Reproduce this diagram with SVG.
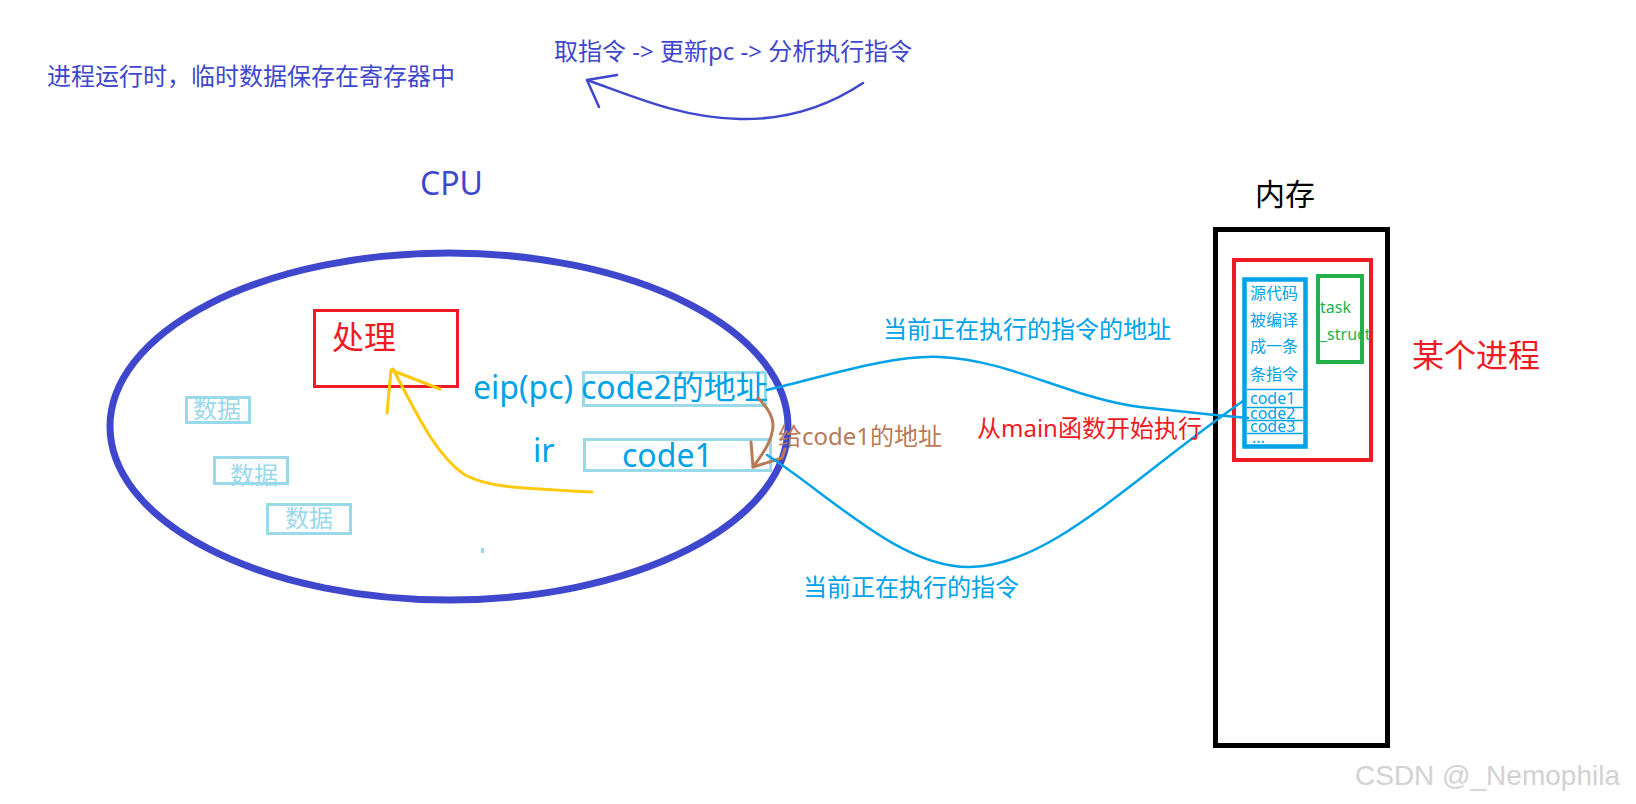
<svg xmlns="http://www.w3.org/2000/svg" width="1636" height="804" viewBox="0 0 1636 804">
<style>
text { font-family: "Noto Sans", "Noto Sans CJK SC", sans-serif; }
.indigo { fill: #3f48cc; }
.blue { fill: #00a2e8; }
.red { fill: #ed1c24; }
.green { fill: #22b14c; }
.brown { fill: #b97a57; }
.lb { fill: #99d9ea; }
.s24 { font-size: 24px; }
.s32 { font-size: 32px; }
.s16 { font-size: 16px; }
.reg { fill: none; stroke: #99d9ea; stroke-width: 3; }
.wire { fill: none; stroke: #00a2e8; stroke-width: 2.5; stroke-linecap: round; stroke-linejoin: round; }
</style>
<rect x="0" y="0" width="1636" height="804" fill="#ffffff"/>

<g id="note-registers">
  <text x="47" y="85" class="s24 indigo">进程运行时，临时数据保存在寄存器中</text>
</g>
<g id="note-cycle">
  <text x="554" y="60" class="s24 indigo">取指令 -&gt; 更新pc -&gt; 分析执行指令</text>
</g>

<g id="cpu">
  <text x="420" y="195" class="s32 indigo">CPU</text>
  <ellipse cx="449" cy="426.5" rx="339" ry="173.5" fill="none" stroke="#3f48cc" stroke-width="7"/>
  <rect x="481" y="548" width="3" height="5" fill="#99d9ea"/>
</g>

<g id="process-unit">
  <rect x="314.5" y="310.5" width="143" height="76" fill="none" stroke="#ed1c24" stroke-width="3"/>
  <text x="332" y="349" class="s32 red">处理</text>
</g>

<g id="eip">
  <text x="473" y="399" class="s32 blue">eip(pc)</text>
  <rect x="583.5" y="372.5" width="182" height="33" class="reg"/>
  <text x="581" y="399" class="s32 blue">code2的地址</text>
</g>

<g id="ir">
  <text x="533" y="462" class="s32 blue">ir</text>
  <rect x="584.5" y="439.5" width="186" height="31" class="reg"/>
  <text x="622" y="467" class="s32 blue">code1</text>
</g>

<g id="data1">
  <rect x="186.5" y="397.5" width="63" height="25" class="reg"/>
  <text x="193" y="418" class="s24 lb">数据</text>
</g>
<g id="data2">
  <rect x="214.5" y="457.5" width="73" height="26" class="reg"/>
  <text x="230" y="484" class="s24 lb">数据</text>
</g>
<g id="data3">
  <rect x="267.5" y="504.5" width="83" height="29" class="reg"/>
  <text x="285" y="527" class="s24 lb">数据</text>
</g>

<g id="memory">
  <text x="1255" y="205" style="font-size:30px" fill="#000000">内存</text>
  <rect x="1215.5" y="229.5" width="172" height="516" fill="none" stroke="#000000" stroke-width="5"/>
</g>

<g id="process">
  <rect x="1234" y="260" width="137" height="200" fill="none" stroke="#ed1c24" stroke-width="4"/>
  <text x="1412" y="367" class="s32 red">某个进程</text>
</g>

<g id="code-segment">
  <rect x="1244.5" y="279.5" width="61" height="167" fill="none" stroke="#00a2e8" stroke-width="4.5"/>
  <text x="1250" y="299" class="s16 blue">源代码</text>
  <text x="1250" y="326" class="s16 blue">被编译</text>
  <text x="1250" y="352" class="s16 blue">成一条</text>
  <text x="1250" y="380" class="s16 blue">条指令</text>
  <g stroke="#00a2e8" stroke-width="1.5">
    <line x1="1247" y1="389.5" x2="1303" y2="389.5"/>
    <line x1="1247" y1="407.5" x2="1303" y2="407.5"/>
    <line x1="1247" y1="420.5" x2="1303" y2="420.5"/>
    <line x1="1247" y1="433.5" x2="1303" y2="433.5"/>
  </g>
  <text x="1250" y="404" class="s16 blue">code1</text>
  <text x="1250" y="419" class="s16 blue">code2</text>
  <text x="1250" y="432" class="s16 blue">code3</text>
  <text x="1252" y="443" class="s16 blue">...</text>
</g>

<g id="task-struct">
  <rect x="1318" y="276" width="44" height="86" fill="none" stroke="#22b14c" stroke-width="4"/>
  <text x="1320" y="313" class="s16 green">task</text>
  <text x="1320" y="340" class="s16 green">_struct</text>
</g>

<g id="connectors">
  <path d="M 863,83 C 830,105 790,120 740,119 C 680,118 630,95 587,80" fill="none" stroke="#3f48cc" stroke-width="2.5" stroke-linecap="round"/>
  <path d="M 617,75 L 587,80 L 599,107" fill="none" stroke="#3f48cc" stroke-width="2.5" stroke-linecap="round" stroke-linejoin="round"/>

  <path d="M 592,492 C 520,488 490,488 465,475 C 435,455 415,410 393,369" fill="none" stroke="#ffc90e" stroke-width="3" stroke-linecap="round"/>
  <path d="M 387,413 L 391,370 L 440,389" fill="none" stroke="#ffc90e" stroke-width="3" stroke-linecap="round" stroke-linejoin="round"/>

  <path d="M 758,398 C 766,406 773,415 773,425 C 773,440 762,455 753,467" fill="none" stroke="#b97a57" stroke-width="3" stroke-linecap="round"/>
  <path d="M 751,442 L 753,467 L 782,458 L 785,449" fill="none" stroke="#b97a57" stroke-width="3" stroke-linecap="round" stroke-linejoin="round"/>
  <text x="778" y="445" class="s24 brown">给code1的地址</text>

  <path class="wire" d="M 767,390 C 830,375 890,355 940,357 C 1010,360 1070,398 1140,407 L 1215,415 L 1248,418"/>
  <text x="883" y="338" class="s24 blue">当前正在执行的指令的地址</text>

  <path class="wire" d="M 767,455 C 830,495 900,568 970,567 C 1050,566 1130,480 1243,401"/>
  <text x="803" y="596" class="s24 blue">当前正在执行的指令</text>

  <text x="977" y="437" class="s24 red">从main函数开始执行</text>
</g>

<text x="1355" y="785" style="font-family:'Liberation Sans',Arial,sans-serif;font-size:28px" fill="#d2d2d2">CSDN @_Nemophila</text>
</svg>
